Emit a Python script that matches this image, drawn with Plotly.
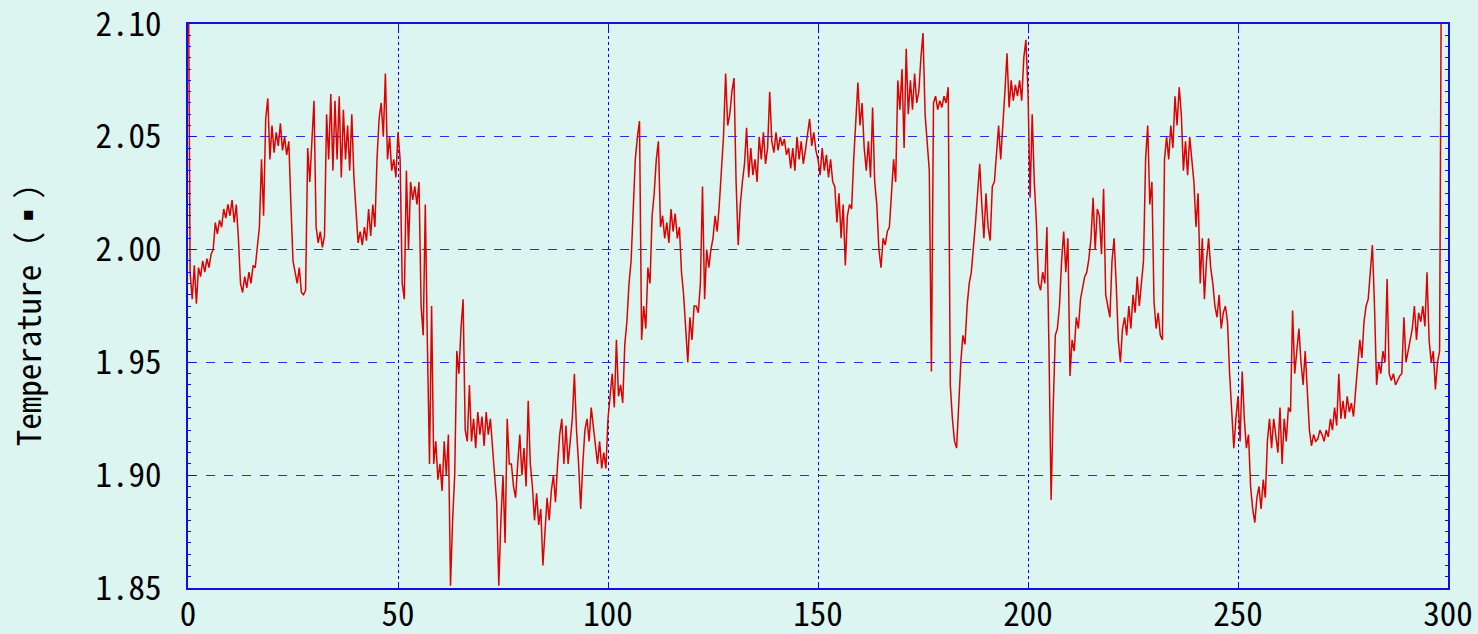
import plotly.graph_objects as go

temps = [
    2.16, 1.990, 1.978, 1.993, 1.976, 1.992, 1.988, 1.995, 1.990, 1.996,
    1.992, 1.998, 2.000, 2.012, 2.007, 2.013, 2.010, 2.018, 2.014, 2.020,
    2.015, 2.022, 2.012, 2.020, 2.005, 1.985, 1.981, 1.988, 1.983, 1.990,
    1.985, 1.993, 1.992, 2.000, 2.010, 2.040, 2.015, 2.058, 2.067, 2.040,
    2.055, 2.043, 2.052, 2.046, 2.056, 2.044, 2.050, 2.042, 2.048, 2.020,
    1.995, 1.990, 1.985, 1.992, 1.981, 1.980, 1.982, 2.045, 2.030, 2.048,
    2.066, 2.010, 2.003, 2.008, 2.001, 2.006, 2.060, 2.040, 2.069, 2.035,
    2.066, 2.040, 2.068, 2.032, 2.062, 2.040, 2.055, 2.035, 2.060, 2.032,
    2.015, 2.003, 2.008, 2.002, 2.010, 2.004, 2.018, 2.006, 2.020, 2.010,
    2.040, 2.058, 2.065, 2.050, 2.078, 2.040, 2.050, 2.035, 2.040, 2.032,
    2.052, 2.040, 1.985, 1.978, 2.035, 2.000, 2.030, 2.022, 2.028, 2.020,
    2.030, 1.975, 1.962, 2.020, 1.958, 1.905, 1.975, 1.905, 1.915, 1.898,
    1.905, 1.893, 1.915, 1.900, 1.918, 1.851, 1.880, 1.900, 1.955, 1.945,
    1.965, 1.978, 1.920, 1.915, 1.940, 1.915, 1.925, 1.912, 1.928, 1.918,
    1.926, 1.913, 1.928, 1.918, 1.925, 1.910, 1.900, 1.888, 1.851, 1.880,
    1.900, 1.870, 1.925, 1.905, 1.905, 1.895, 1.890, 1.905, 1.918, 1.900,
    1.912, 1.895, 1.933, 1.905, 1.895, 1.880, 1.892, 1.878, 1.885, 1.860,
    1.875, 1.890, 1.880, 1.893, 1.900, 1.888, 1.905, 1.918, 1.925, 1.905,
    1.922, 1.905, 1.915, 1.925, 1.945, 1.920, 1.905, 1.885, 1.905, 1.920,
    1.925, 1.915, 1.930, 1.922, 1.912, 1.905, 1.915, 1.903, 1.910, 1.903,
    1.925, 1.935, 1.945, 1.930, 1.960, 1.935, 1.940, 1.932, 1.958, 1.968,
    1.985, 1.995, 2.015, 2.040, 2.050, 2.057, 1.960, 1.975, 1.965, 1.992,
    1.985, 2.015, 2.025, 2.040, 2.048, 2.010, 2.015, 2.005, 2.012, 2.003,
    2.018, 2.008, 2.016, 2.005, 2.010, 1.990, 1.980, 1.965, 1.950, 1.970,
    1.960, 1.975, 1.975, 1.972, 1.985, 2.028, 1.978, 2.000, 1.992, 2.000,
    2.005, 2.015, 2.008, 2.020, 2.035, 2.050, 2.078, 2.055, 2.060, 2.070,
    2.076, 2.030, 2.002, 2.020, 2.030, 2.038, 2.054, 2.032, 2.045, 2.033,
    2.040, 2.030, 2.050, 2.040, 2.052, 2.038, 2.045, 2.070, 2.048, 2.043,
    2.052, 2.044, 2.050, 2.046, 2.049, 2.042, 2.045, 2.036, 2.045, 2.035,
    2.050, 2.040, 2.048, 2.038, 2.044, 2.050, 2.058, 2.046, 2.052, 2.044,
    2.040, 2.033, 2.045, 2.035, 2.042, 2.032, 2.040, 2.030, 2.028, 2.012,
    2.025, 2.005, 2.020, 1.993, 2.015, 2.020, 2.018, 2.040, 2.060, 2.074,
    2.055, 2.065, 2.045, 2.035, 2.048, 2.032, 2.063, 2.030, 2.020, 2.000,
    1.992, 2.005, 2.002, 2.008, 2.010, 2.025, 2.040, 2.030, 2.075, 2.062,
    2.080, 2.045, 2.089, 2.060, 2.075, 2.062, 2.078, 2.065, 2.070, 2.085,
    2.096, 2.060, 2.046, 2.035, 1.946, 2.065, 2.068, 2.062, 2.066, 2.063,
    2.068, 2.065, 2.072, 1.940, 1.925, 1.915, 1.912, 1.935, 1.950, 1.962,
    1.958, 1.975, 1.985, 1.990, 2.000, 2.012, 2.025, 2.038, 2.020, 2.005,
    2.025, 2.010, 2.004, 2.028, 2.030, 2.045, 2.055, 2.040, 2.058, 2.070,
    2.087, 2.063, 2.075, 2.066, 2.073, 2.068, 2.075, 2.066, 2.085, 2.093,
    2.070, 2.023, 2.060, 2.030, 2.012, 1.985, 1.982, 1.990, 1.985, 2.010,
    1.955, 1.889, 1.930, 1.962, 1.965, 1.975, 1.995, 2.008, 1.990, 2.005,
    1.944, 1.960, 1.955, 1.970, 1.965, 1.978, 1.983, 1.988, 1.990, 1.996,
    2.005, 2.023, 2.000, 2.018, 2.015, 1.998, 2.027, 1.980, 1.975, 1.970,
    1.995, 2.005, 1.985, 1.960, 1.950, 1.965, 1.970, 1.962, 1.975, 1.965,
    1.980, 1.972, 1.988, 1.975, 1.985, 1.995, 2.040, 2.055, 2.020, 2.030,
    1.977, 1.965, 1.972, 1.962, 1.960, 2.040, 2.050, 2.040, 2.055, 2.045,
    2.068, 2.055, 2.072, 2.060, 2.035, 2.048, 2.033, 2.050, 2.040, 2.030,
    2.010, 2.025, 1.985, 2.005, 1.978, 1.995, 2.005, 1.992, 1.985, 1.975,
    1.970, 1.980, 1.965, 1.972, 1.975, 1.968, 1.945, 1.930, 1.912, 1.925,
    1.935, 1.915, 1.946, 1.925, 1.912, 1.918, 1.895, 1.885, 1.879, 1.890,
    1.895, 1.885, 1.898, 1.890, 1.915, 1.925, 1.912, 1.925, 1.918, 1.910,
    1.930, 1.905, 1.925, 1.915, 1.930, 1.928, 1.973, 1.945, 1.955, 1.965,
    1.950, 1.940, 1.955, 1.937, 1.920, 1.913, 1.918, 1.915, 1.916, 1.920,
    1.918, 1.915, 1.920, 1.917, 1.925, 1.920, 1.930, 1.922, 1.945, 1.925,
    1.933, 1.925, 1.935, 1.928, 1.932, 1.926, 1.938, 1.950, 1.960, 1.952,
    1.968, 1.975, 1.978, 1.990, 2.002, 1.975, 1.940, 1.950, 1.945, 1.955,
    1.950, 1.987, 1.945, 1.942, 1.945, 1.940, 1.942, 1.944, 1.945, 1.970,
    1.950, 1.955, 1.960, 1.965, 1.975, 1.960, 1.972, 1.968, 1.975, 1.966,
    1.990, 1.960, 1.950, 1.955, 1.938, 1.950, 1.955, 2.16,
]
x_step = 0.5
xs = [i * x_step for i in range(len(temps))]

x_min, x_max, x_dtick = 0, 300, 50
y_min, y_max, y_dtick = 1.85, 2.10, 0.05

FONT = "Noto Sans Mono CJK JP, Noto Sans CJK JP, DejaVu Sans Mono, monospace"
BLUE = "#1010e0"

fig = go.Figure()
fig.add_trace(go.Scatter(
    x=xs, y=temps, mode="lines",
    line=dict(color="#e00000", width=1.5),
    hoverinfo="skip", showlegend=False,
))

fig.update_layout(
    width=1478, height=634, autosize=False,
    paper_bgcolor="#ddf5f0", plot_bgcolor="#ddf5f0",
    margin=dict(l=188, r=30, t=24, b=46, pad=0),
    font=dict(family=FONT, color="#000000", size=33),
)
fig.update_xaxes(
    range=[x_min, x_max], tickmode="linear", tick0=x_min, dtick=x_dtick,
    showline=True, linecolor=BLUE, linewidth=2, mirror="ticks",
    ticks="inside", ticklen=6, tickcolor=BLUE,
    showgrid=True, gridcolor="#0000ff", gridwidth=1, griddash="dot",
    zeroline=False, tickfont=dict(family=FONT, size=33), ticklabelstandoff=-4,
    ticklabeloverflow="allow", automargin=False,
)
fig.update_yaxes(
    range=[y_min, y_max], tickmode="linear", tick0=y_min, dtick=y_dtick,
    tickformat=".2f",
    showline=True, linecolor=BLUE, linewidth=2, mirror="ticks",
    ticks="inside", ticklen=8, tickcolor=BLUE,
    minor=dict(dtick=0.005, ticks="inside", ticklen=3, tickcolor=BLUE, showgrid=False),
    showgrid=True, gridcolor="#2a2af0", gridwidth=1, griddash="dash",
    zeroline=False, tickfont=dict(family=FONT, size=33), ticklabelstandoff=18,
    ticklabeloverflow="allow",
    title=dict(text="Temperature（▪）", font=dict(family=FONT, size=33), standoff=44),
    automargin=False,
)

post = (
    "document.body.style.margin='0px';"
    "document.body.style.overflow='hidden';"
    "document.documentElement.style.overflow='hidden';"
    "var gd=document.getElementById('{plot_id}');"
    "Plotly.relayout(gd,{width:1478,height:634});"
)
fig.write_html("out.html", post_script=post,
               config={"responsive": False, "displayModeBar": False})
